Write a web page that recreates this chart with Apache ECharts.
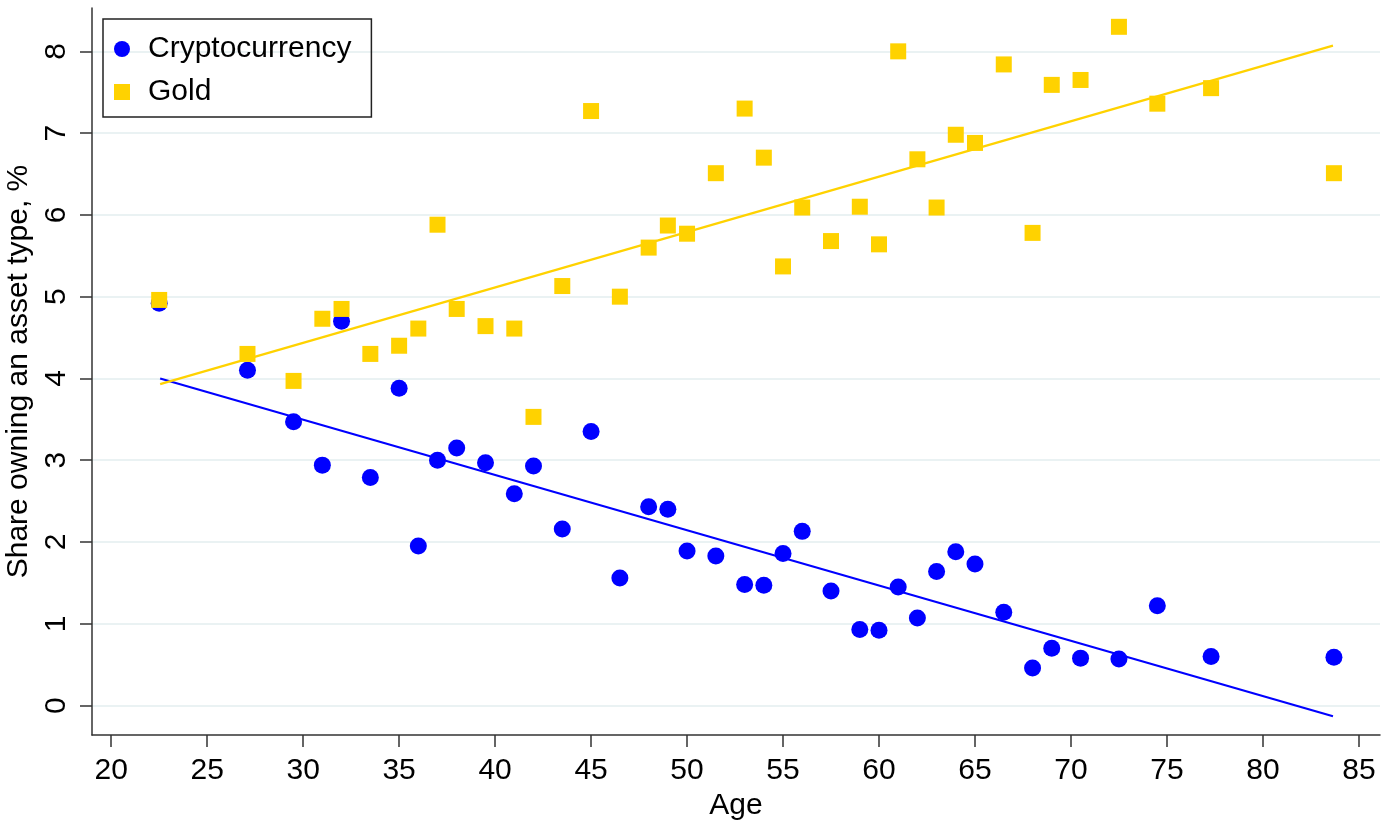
<!DOCTYPE html>
<html>
<head>
<meta charset="utf-8">
<script src="https://cdn.jsdelivr.net/npm/echarts@6/dist/echarts.min.js"></script>
<style>
html,body{margin:0;padding:0;background:#fff;}
#chart{width:1396px;height:822px;}
</style>
</head>
<body>
<div id="chart"></div>
<script>
const ages = [22.5, 27.1, 29.5, 31, 32, 33.5, 35, 36, 37, 38, 39.5, 41, 42, 43.5, 45, 46.5, 48, 49, 50, 51.5, 53, 54, 55, 56, 57.5, 59, 60, 61, 62, 63, 64, 65, 66.5, 68, 69, 70.5, 72.5, 74.5, 77.3, 83.7];
const crypto = [4.92, 4.10, 3.47, 2.94, 4.70, 2.79, 3.88, 1.95, 3.00, 3.15, 2.97, 2.59, 2.93, 2.16, 3.35, 1.56, 2.43, 2.40, 1.89, 1.83, 1.48, 1.47, 1.86, 2.13, 1.40, 0.93, 0.92, 1.45, 1.07, 1.64, 1.88, 1.73, 1.14, 0.46, 0.70, 0.58, 0.57, 1.22, 0.60, 0.59];
const gold = [4.96, 4.30, 3.97, 4.73, 4.85, 4.30, 4.40, 4.61, 5.88, 4.85, 4.64, 4.61, 3.53, 5.13, 7.27, 5.00, 5.60, 5.87, 5.77, 6.51, 7.30, 6.70, 5.37, 6.09, 5.68, 6.10, 5.64, 8.00, 6.68, 6.09, 6.98, 6.88, 7.84, 5.78, 7.59, 7.65, 8.30, 7.36, 7.55, 6.51];
const fitX = [22.55, 83.65];
const cryptoFit = [4.00, -0.13];
const goldFit = [3.93, 8.07];
const xTicks = [20, 25, 30, 35, 40, 45, 50, 55, 60, 65, 70, 75, 80, 85];
const yTicks = [0, 1, 2, 3, 4, 5, 6, 7, 8];

const pair = (xs, ys) => xs.map((x, i) => [x, ys[i]]);
const FONT = 'Liberation Sans, Arial, sans-serif';
const BLUE = '#0000ff';
const GOLD = '#ffd200';

const chart = echarts.init(document.getElementById('chart'));
chart.setOption({
  animation: false,
  backgroundColor: '#ffffff',
  grid: {left: 92, right: 16, top: 8, bottom: 87, containLabel: false, outerBoundsMode: 'none'},
  legend: {
    orient: 'vertical',
    left: 103, top: 19,
    data: [{name: 'Cryptocurrency', icon: 'circle'}, {name: 'Gold', icon: 'rect'}],
    itemWidth: 16, itemHeight: 16, itemGap: 13,
    padding: [15, 20, 10, 11],
    borderColor: '#222', borderWidth: 1.5, borderRadius: 0,
    textStyle: {fontFamily: FONT, fontSize: 30, color: '#000', padding: [0, 0, 0, 13]}
  },
  xAxis: {
    type: 'value', min: 19, max: 86.1, interval: 5,
    name: 'Age', nameLocation: 'middle', nameGap: 50,
    nameTextStyle: {fontFamily: FONT, fontSize: 30, color: '#000'},
    axisLine: {show: true, onZero: false, lineStyle: {color: '#333', width: 1.5}},
    axisTick: {show: true, length: 12, lineStyle: {color: '#333', width: 1.5}, customValues: xTicks},
    axisLabel: {fontFamily: FONT, fontSize: 30, color: '#000', margin: 21, customValues: xTicks},
    splitLine: {show: false}
  },
  yAxis: {
    type: 'value', min: -0.36, max: 8.53,
    name: 'Share owning an asset type, %', nameLocation: 'middle', nameGap: 55,
    nameTextStyle: {fontFamily: FONT, fontSize: 30, color: '#000'},
    axisLine: {show: true, onZero: false, lineStyle: {color: '#333', width: 1.5}},
    axisTick: {show: true, length: 12, lineStyle: {color: '#333', width: 1.5}, customValues: yTicks},
    axisLabel: {fontFamily: FONT, fontSize: 30, color: '#000', margin: 20, rotate: 90, customValues: yTicks},
    splitLine: {show: true, lineStyle: {color: '#eaf2f3', width: 2}},
    splitNumber: 8
  },
  series: [
    {name: 'Cryptocurrency fit', type: 'line', data: pair(fitX, cryptoFit), symbol: 'none',
     lineStyle: {color: BLUE, width: 2.2}, z: 1, silent: true},
    {name: 'Gold fit', type: 'line', data: pair(fitX, goldFit), symbol: 'none',
     lineStyle: {color: GOLD, width: 2.2}, z: 1, silent: true},
    {name: 'Cryptocurrency', type: 'scatter', data: pair(ages, crypto), symbol: 'circle', symbolSize: 17,
     itemStyle: {color: BLUE, opacity: 1}, z: 2},
    {name: 'Gold', type: 'scatter', data: pair(ages, gold), symbol: 'rect', symbolSize: 16,
     itemStyle: {color: GOLD, opacity: 1}, z: 3}
  ]
});
</script>
</body>
</html>
